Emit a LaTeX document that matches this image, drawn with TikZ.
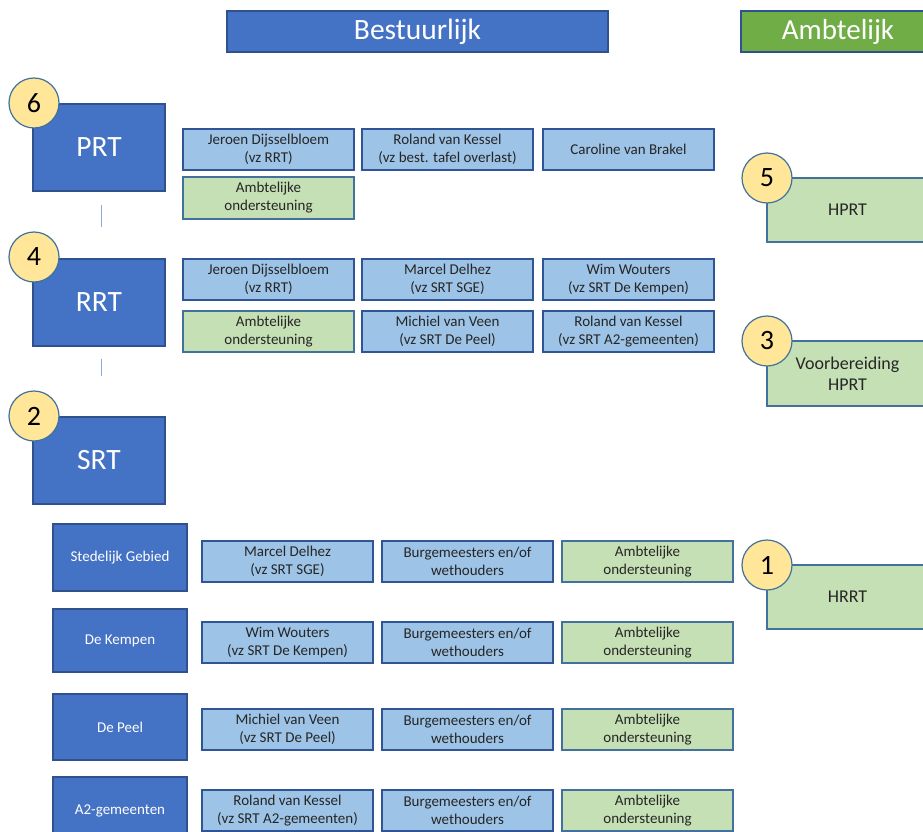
\documentclass[tikz,border=0pt]{standalone}
\usepackage{fontspec}
\setmainfont{Carlito}
\definecolor{dblue}{HTML}{4472C4}
\definecolor{dborder}{HTML}{2F528F}
\definecolor{lblue}{HTML}{9DC3E6}
\definecolor{lborder}{HTML}{2F5597}
\definecolor{lgreen}{HTML}{C5E0B4}
\definecolor{gborder}{HTML}{41719C}
\definecolor{hgreen}{HTML}{70AD47}
\definecolor{cfill}{HTML}{FFE699}
\definecolor{tgray}{HTML}{262626}
\definecolor{conncol}{HTML}{8FAADC}
\tikzset{
  base/.style={draw, line width=1.2pt, inner sep=0pt, outer sep=0pt, align=center},
  hdr/.style={base, fill=dblue, draw=dborder, text=white, font=\fontsize{29.5}{34}\selectfont, minimum height=41pt},
  hdrg/.style={base, fill=hgreen, draw=dborder, text=white, font=\fontsize{29}{34}\selectfont, minimum height=41pt},
  big/.style={base, fill=dblue, draw=dborder, text=white, font=\fontsize{29.5}{34}\selectfont, minimum width=132pt, minimum height=87pt},
  sub/.style={base, fill=dblue, draw=dborder, text=white, font=\fontsize{15}{18}\selectfont, minimum width=134pt},
  lite/.style={base, fill=lblue, draw=lborder, text=tgray, font=\fontsize{15}{18}\selectfont, minimum width=171pt, minimum height=41pt},
  grn/.style={base, fill=lgreen, draw=gborder, text=tgray, font=\fontsize{15}{18}\selectfont, minimum width=171pt, minimum height=41pt},
  rbox/.style={base, fill=lgreen, draw=gborder, text=tgray, font=\fontsize{18}{21}\selectfont, minimum width=161pt},
  num/.style={circle, draw=gborder, line width=1.2pt, fill=cfill, minimum size=50pt, inner sep=0pt, text=black, font=\fontsize{28}{32}\selectfont},
  conn/.style={draw=conncol, line width=1pt}
}
\begin{document}
\begin{tikzpicture}[x=1pt,y=-1pt]
\useasboundingbox (0,0) rectangle (923,832);
\clip (0,0) rectangle (923,832);
% headers
\node[hdr, minimum width=381pt] (hB) at (417.5,31.5) {Bestuurlijk};
\node[hdrg, minimum width=194pt] (hA) at (838,31.5) {Ambtelijk};
% PRT
\node[big] (PRT) at (99,147.5) {PRT};
\node[num] (c6) at (34,103) {6};
\node[lite] (p1) at (268.5,149.5) {Jeroen Dijsselbloem\\(vz RRT)};
\node[lite] (p2) at (447.5,149.5) {Roland van Kessel\\(vz best. tafel overlast)};
\node[lite] (p3) at (628.5,149.5) {Caroline van Brakel};
\node[grn, minimum height=42pt] (p4) at (268.5,198) {Ambtelijke\\ondersteuning};
% RRT
\node[big] (RRT) at (99,302.5) {RRT};
\node[num] (c4) at (34,257) {4};
\node[lite] (r1) at (268.5,279.5) {Jeroen Dijsselbloem\\(vz RRT)};
\node[lite] (r2) at (447.5,279.5) {Marcel Delhez\\(vz SRT SGE)};
\node[lite] (r3) at (628.5,279.5) {Wim Wouters\\(vz SRT De Kempen)};
\node[grn] (r4) at (268.5,331.5) {Ambtelijke\\ondersteuning};
\node[lite] (r5) at (447.5,331.5) {Michiel van Veen\\(vz SRT De Peel)};
\node[lite] (r6) at (628.5,331.5) {Roland van Kessel\\(vz SRT A2-gemeenten)};
% connectors
\coordinate (l1a) at (101,205);
\coordinate (l1b) at (101,227);
\coordinate (l2a) at (101,359);
\coordinate (l2b) at (101,376);
\draw[conn] (l1a) -- (l1b);
\draw[conn] (l2a) -- (l2b);
% SRT
\node[big] (SRT) at (99,460.5) {SRT};
\node[num] (c2) at (34,416) {2};
% sub rows
\node[sub, minimum height=67pt] (s1) at (120,557.5) {Stedelijk Gebied};
\node[lite] (s1a) at (287.5,561.5) {Marcel Delhez\\(vz SRT SGE)};
\node[lite] (s1b) at (467.5,561.5) {Burgemeesters en/of\\wethouders};
\node[grn] (s1c) at (647.5,561.5) {Ambtelijke\\ondersteuning};
\node[sub, minimum height=63pt] (s2) at (120,640.5) {De Kempen};
\node[lite] (s2a) at (287.5,642.5) {Wim Wouters\\(vz SRT De Kempen)};
\node[lite] (s2b) at (467.5,642.5) {Burgemeesters en/of\\wethouders};
\node[grn] (s2c) at (647.5,642.5) {Ambtelijke\\ondersteuning};
\node[sub, minimum height=66pt] (s3) at (120,727) {De Peel};
\node[lite] (s3a) at (287.5,729.5) {Michiel van Veen\\(vz SRT De Peel)};
\node[lite] (s3b) at (467.5,729.5) {Burgemeesters en/of\\wethouders};
\node[grn] (s3c) at (647.5,729.5) {Ambtelijke\\ondersteuning};
\node[sub, minimum height=67pt] (s4) at (120,810.5) {A2-gemeenten};
\node[lite] (s4a) at (287.5,810.5) {Roland van Kessel\\(vz SRT A2-gemeenten)};
\node[lite] (s4b) at (467.5,810.5) {Burgemeesters en/of\\wethouders};
\node[grn] (s4c) at (647.5,810.5) {Ambtelijke\\ondersteuning};
% right column
\node[rbox, minimum height=64pt] (HPRT) at (847.5,210) {HPRT};
\node[num] (c5) at (767,178) {5};
\node[rbox, minimum height=65pt] (VHPRT) at (847.5,373.5) {Voorbereiding\\HPRT};
\node[num] (c3) at (767,341) {3};
\node[rbox, minimum height=64pt] (HRRT) at (847.5,597) {HRRT};
\node[num] (c1) at (767,565) {1};
\end{tikzpicture}
\end{document}
